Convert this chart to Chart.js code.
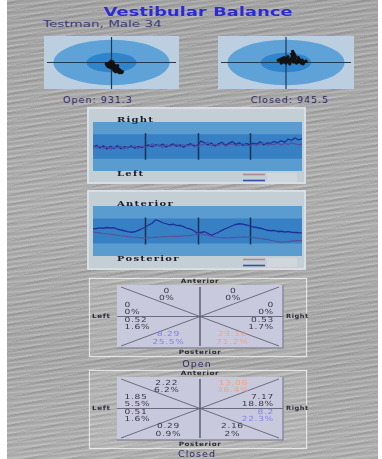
<!DOCTYPE html>
<html>
<head>
<meta charset="utf-8">
<title>Vestibular Balance</title>
<script src="https://cdn.jsdelivr.net/npm/chart.js@4.4.1/dist/chart.umd.min.js"></script>
<style>
    html, body { margin: 0; padding: 0; }
    body {
        width: 382px; height: 459px; overflow: hidden; position: relative;
        background: #fff; font-family: 'DejaVu Sans', sans-serif;
    }
    #metal {
        position: absolute; left: 7px; top: 0; width: 371px; height: 459px;
        background-color: #a8a8a8;
        background-image:
            repeating-linear-gradient(174deg, rgba(255,255,255,0) 0px, rgba(255,255,255,0.16) 1px, rgba(255,255,255,0) 2px, rgba(0,0,0,0.07) 3px, rgba(255,255,255,0) 5px),
            repeating-linear-gradient(168deg, rgba(255,255,255,0.07) 0 2px, rgba(0,0,0,0.06) 2px 4px, rgba(255,255,255,0) 4px 9px),
            linear-gradient(180deg, #a6a6a6, #b0b0b0 45%, #a9a9a9 75%, #b2b2b2);
    }
    .box { position: absolute; }
    .txt { position: absolute; white-space: nowrap; line-height: 1; }
    #title {
        left: 198px; top: 11px; transform: translate(-50%, -50%) scaleX(1.38);
        font: bold 13px 'DejaVu Sans'; color: #2b2bd0;
        text-shadow: 0 0 1px rgba(255,255,255,0.5);
    }
    #subject {
        left: 43px; top: 24px; transform: translate(0, -50%) scaleX(1.5); transform-origin: left center;
        font: 9px 'DejaVu Sans'; color: #3c3c78;
    }
    .cap { transform: translate(-50%, -50%); font: 9.5px 'DejaVu Sans'; letter-spacing: 1px; color: #2c2c5c; }
</style>
</head>
<body>
<div id="metal"></div>

<div class="txt" id="title">Vestibular Balance</div>
<div class="txt" id="subject">Testman, Male 34</div>

<div class="box" style="left:40px;top:32px;width:143px;height:61px"><canvas id="swayOpen"></canvas></div>
<div class="box" style="left:214px;top:32px;width:144px;height:61px"><canvas id="swayClosed"></canvas></div>
<div class="txt cap" style="left:98px;top:99px">Open: 931.3</div>
<div class="txt cap" style="left:290px;top:99px">Closed: 945.5</div>

<div class="box" style="left:87px;top:107px;width:219px;height:77px"><canvas id="lateralChart"></canvas></div>
<div class="box" style="left:87px;top:190px;width:219px;height:80px"><canvas id="apChart"></canvas></div>

<div class="box" style="left:88px;top:277px;width:220px;height:81px"><canvas id="quadOpen"></canvas></div>
<div class="txt cap" style="left:197px;top:363px">Open</div>
<div class="box" style="left:88px;top:369px;width:220px;height:81px"><canvas id="quadClosed"></canvas></div>
<div class="txt cap" style="left:197px;top:453px">Closed</div>

<script>
// ---- sway (centre of pressure), normalised units ----
const openSwayX = [-0.077, -0.063, -0.049, -0.035, -0.035, -0.021, -0.021, -0.007, -0.007, 0.007, 0.007, 0.021, 0.021, 0.035, 0.035, 0.049, 0.049, 0.063, 0.063, 0.077, 0.077, 0.091, 0.091, 0.105, 0.105, 0.119, 0.133, 0.147, 0.007, -0.021, 0.035, 0.063, -0.049, 0.021, -0.007, -0.063, 0.091, 0.119, 0.161, 0.049];
const openSwayY = [-0.05, -0.117, -0.083, -0.017, -0.15, -0.05, -0.117, -0.083, -0.183, -0.017, -0.117, -0.05, -0.15, -0.083, -0.183, -0.117, -0.217, -0.15, -0.25, -0.183, -0.283, -0.217, -0.317, -0.25, -0.35, -0.283, -0.317, -0.383, -0.217, -0.183, -0.283, -0.35, -0.15, 0.017, 0.05, -0.05, -0.117, -0.383, -0.35, -0.317];
const closedSwayX = [-0.112, -0.084, -0.07, -0.056, -0.042, -0.028, -0.014, 0, 0.014, 0.028, 0.042, 0.056, 0.07, 0.084, 0.098, 0.112, 0.126, 0.14, 0.154, 0.168, 0.182, 0.196, 0.21, 0.224, 0.238, 0.266, 0.294, 0.056, 0, 0.098, 0.112, 0.098, 0.126, 0.084, -0.028, 0.028, 0.14, 0.182, 0.252, -0.07];
const closedSwayY = [0.083, 0.117, 0.05, 0.15, 0.083, 0.017, 0.117, 0.05, 0.15, 0.083, 0.017, 0.117, 0.05, 0.183, 0.083, 0.017, 0.15, 0.05, -0.017, 0.083, 0.017, 0.117, 0.05, -0.017, 0.083, 0.017, 0.05, -0.05, -0.017, 0.25, 0.35, 0.417, 0.283, 0.317, 0.183, 0.217, 0.217, 0.183, -0.05, -0.017];

// ---- traces over 60 samples ----
const lateralA = [-0.05, 0.10, -0.12, 0.05, -0.20, 0.02, -0.15, 0.08, -0.18, -0.02, -0.10, 0.06, -0.14, 0.00, -0.08, 0.04,
    0.12, -0.02, 0.15, 0.05, 0.18, -0.04, 0.10, 0.20, 0.02, 0.14, -0.06, 0.12, 0.22, 0.04, 0.10,
    0.45, 0.30, 0.12, 0.28, 0.05, 0.22, 0.35, 0.10, 0.25, 0.40, 0.18, 0.30, 0.08, 0.24, 0.15,
    0.28, 0.20, 0.38, 0.12, 0.30, 0.25, 0.42, 0.30, 0.48, 0.35, 0.60, 0.50, 0.70, 0.55, 0.62];
const lateralB = [0.05, -0.10, 0.02, -0.15, 0.00, -0.22, -0.05, -0.12, 0.04, -0.20, -0.02, -0.08, 0.05, -0.16, 0.02, -0.05,
    0.00, 0.20, 0.05, 0.12, -0.08, 0.16, 0.02, 0.10, 0.18, -0.02, 0.15, 0.05, 0.08, 0.20, -0.05,
    0.12, 0.20, 0.35, 0.05, 0.18, 0.10, 0.25, 0.02, 0.15, 0.22, 0.05, 0.12, 0.26, 0.10, 0.05,
    0.18, 0.08, 0.22, 0.30, 0.10, 0.20, 0.15, 0.28, 0.12, 0.25, 0.18, 0.30, 0.22, 0.15, 0.20];
const apA = [0.17, 0.20, 0.25, 0.22, 0.28, 0.24, 0.26, 0.15, 0.08, 0.02, -0.05, -0.10, -0.06, 0.05, 0.18, 0.32,
    0.48, 0.62, 0.90, 0.80, 0.66, 0.58, 0.50, 0.54, 0.45, 0.44, 0.35, 0.22, 0.15, 0.02, -0.20,
    -0.12, -0.06, -0.20, -0.34, -0.22, -0.10, 0.05, 0.18, 0.30, 0.42, 0.52, 0.58, 0.55, 0.48, 0.40,
    0.32, 0.28, 0.22, 0.15, 0.06, 0.02, 0.04, -0.04, -0.02, -0.08, -0.05, -0.10, -0.12, -0.14, -0.15];
const apB = [-0.09, -0.12, -0.15, -0.20, -0.24, -0.26, -0.30, -0.34, -0.38, -0.40, -0.45, -0.48, -0.50, -0.52, -0.55, -0.57,
    -0.54, -0.52, -0.49, -0.48, -0.46, -0.45, -0.44, -0.42, -0.43, -0.41, -0.38, -0.37, -0.35, -0.30, -0.24,
    -0.22, -0.30, -0.34, -0.42, -0.48, -0.52, -0.54, -0.55, -0.54, -0.53, -0.52, -0.50, -0.49, -0.49, -0.50,
    -0.52, -0.56, -0.60, -0.63, -0.68, -0.75, -0.80, -0.85, -0.89, -0.88, -0.85, -0.81, -0.79, -0.77, -0.76];

// ---- quadrant summaries ----
const sectorNames = ['Anterior-Left', 'Anterior-Right', 'Left-Anterior', 'Left-Posterior',
    'Right-Anterior', 'Right-Posterior', 'Posterior-Left', 'Posterior-Right'];
const openValues = [0, 0, 0, 0.52, 0, 0.53, 8.29, 23.16];
const openPercents = [0, 0, 0, 1.6, 0, 1.7, 25.5, 71.2];
const closedValues = [2.22, 13.06, 1.85, 0.51, 7.17, 8.2, 0.29, 2.16];
const closedPercents = [6.2, 36.4, 5.5, 1.6, 18.8, 22.3, 0.9, 2];

// where each sector's label sits, in the -1..1 quadrant frame
const sectorSpots = {
    'Anterior-Left':   { x: -0.40, y: 0.70, align: 'center' },
    'Anterior-Right':  { x: 0.40, y: 0.70, align: 'center' },
    'Left-Anterior':   { x: -0.91, y: 0.24, align: 'left' },
    'Left-Posterior':  { x: -0.91, y: -0.22, align: 'left' },
    'Right-Anterior':  { x: 0.89, y: 0.24, align: 'right' },
    'Right-Posterior': { x: 0.89, y: -0.22, align: 'right' },
    'Posterior-Left':  { x: -0.38, y: -0.69, align: 'center' },
    'Posterior-Right': { x: 0.39, y: -0.69, align: 'center' }
};

Chart.defaults.font.family = 'DejaVu Sans';

const baseOptions = {
    responsive: true,
    maintainAspectRatio: false,
    animation: false,
    events: [],
    plugins: { legend: { display: false }, tooltip: { enabled: false } }
};

// stretched canvas text, the app draws everything wide
function wideText(ctx, str, x, y, sx) {
    ctx.save();
    ctx.translate(x, y);
    ctx.scale(sx, 1);
    ctx.fillText(str, 0, 0);
    ctx.restore();
}

// ---------- sway plots ----------
const swayZones = {
    id: 'swayZones',
    beforeDatasetsDraw(chart) {
        const { ctx, chartArea: a, scales: { x, y } } = chart;
        const cx = x.getPixelForValue(0), cy = y.getPixelForValue(0);
        ctx.save();
        ctx.fillStyle = '#bccfe0';
        ctx.fillRect(a.left, a.top, a.width, a.height);
        [[0.86, '#5fa2d8'], [0.37, '#2f84cc']].forEach(([r, c]) => {
            ctx.beginPath();
            ctx.ellipse(cx, cy, x.getPixelForValue(r) - cx, cy - y.getPixelForValue(r), 0, 0, Math.PI * 2);
            ctx.fillStyle = c;
            ctx.fill();
        });
        ctx.strokeStyle = '#1c3a55';
        ctx.lineWidth = 1.2;
        ctx.beginPath();
        ctx.moveTo(a.left + 3, cy); ctx.lineTo(a.right - 3, cy);
        ctx.moveTo(cx, a.top + 1); ctx.lineTo(cx, a.bottom);
        ctx.stroke();
        ctx.restore();
    }
};

function makeSway(id, xs, ys) {
    new Chart(document.getElementById(id), {
        type: 'scatter',
        data: {
            datasets: [{
                data: xs.map((v, i) => ({ x: v, y: ys[i] })),
                backgroundColor: '#121212',
                borderWidth: 0,
                pointRadius: 1.7
            }]
        },
        options: {
            ...baseOptions,
            scales: {
                x: { type: 'linear', min: -1, max: 1, display: false },
                y: { min: -1, max: 1, display: false }
            }
        },
        plugins: [swayZones]
    });
}

// ---------- trace panels ----------
function tracePanel(topLabel, bottomLabel) {
    return {
        id: 'tracePanel',
        beforeDraw(chart) {
            const { ctx, width, height } = chart;
            ctx.save();
            ctx.fillStyle = '#c3ced5';
            ctx.fillRect(0, 0, width, height);
            ctx.strokeStyle = '#dfe5e9';
            ctx.lineWidth = 1.5;
            ctx.strokeRect(1, 1, width - 2, height - 2);
            ctx.restore();
        },
        beforeDatasetsDraw(chart) {
            const { ctx, chartArea: a, scales: { x, y } } = chart;
            ctx.save();
            ctx.fillStyle = '#5a9ccf';
            ctx.fillRect(a.left, a.top, a.width, a.height);
            const t = y.getPixelForValue(1), b = y.getPixelForValue(-1);
            ctx.fillStyle = '#3680c3';
            ctx.fillRect(a.left, t, a.width, b - t);
            ctx.strokeStyle = '#1a3152';
            ctx.lineWidth = 1.5;
            [15, 30, 45].forEach(s => {
                const px = Math.round(x.getPixelForValue(s)) + 0.5;
                ctx.beginPath();
                ctx.moveTo(px, t - 1); ctx.lineTo(px, b + 1);
                ctx.stroke();
            });
            ctx.restore();
        },
        afterDraw(chart) {
            const { ctx, chartArea: a } = chart;
            ctx.save();
            ctx.font = 'bold 8px "DejaVu Serif"';
            ctx.letterSpacing = '1px';
            ctx.fillStyle = '#1c1c2c';
            ctx.textBaseline = 'middle';
            wideText(ctx, topLabel, a.left + 24, a.top - 2, 1.25);
            wideText(ctx, bottomLabel, a.left + 24, a.bottom + 3, 1.25);
            ctx.letterSpacing = '0px';
            ctx.fillStyle = 'rgba(255,255,255,0.2)';
            ctx.fillRect(a.left + 174, a.bottom + 2, 30, 9);
            ctx.lineWidth = 1.6;
            [['#ad8a9a', 3.5], ['#3a4ea6', 9.5]].forEach(([c, dy]) => {
                ctx.strokeStyle = c;
                ctx.beginPath();
                ctx.moveTo(a.left + 150, a.bottom + dy); ctx.lineTo(a.left + 172, a.bottom + dy);
                ctx.stroke();
            });
            ctx.restore();
        }
    };
}

function makeTrace(id, seriesA, seriesB, topLabel, bottomLabel, pad) {
    const line = (vals, color, w) => ({
        data: vals.map((v, i) => ({ x: i, y: v })),
        borderColor: color, borderWidth: w, pointRadius: 0, tension: 0, fill: false
    });
    new Chart(document.getElementById(id), {
        type: 'line',
        data: { datasets: [line(seriesB, '#574f9c', 1.2), line(seriesA, '#1f2f9c', 1.3)] },
        options: {
            ...baseOptions,
            layout: { padding: pad },
            scales: {
                x: { type: 'linear', min: 0, max: 60, display: false },
                y: { min: -2, max: 2, display: false }
            }
        },
        plugins: [tracePanel(topLabel, bottomLabel)]
    });
}

// ---------- quadrant summaries ----------
const quadPanel = {
    id: 'quadPanel',
    beforeDraw(chart) {
        const { ctx, width, height, chartArea: a } = chart;
        ctx.save();
        ctx.fillStyle = 'rgba(255,255,255,0.10)';
        ctx.fillRect(0, 0, width, height);
        ctx.strokeStyle = 'rgba(238,238,238,0.85)';
        ctx.lineWidth = 1;
        ctx.strokeRect(1.5, 1.5, width - 3, height - 3);
        ctx.fillStyle = '#c9c9dd';
        ctx.fillRect(a.left, a.top, a.width, a.height);
        ctx.strokeStyle = '#8a8a9c';
        ctx.lineWidth = 1.5;
        ctx.beginPath();
        ctx.moveTo(a.right, a.top); ctx.lineTo(a.right, a.bottom); ctx.lineTo(a.left, a.bottom);
        ctx.stroke();
        ctx.restore();
    },
    beforeDatasetsDraw(chart) {
        const { ctx, chartArea: a, scales: { x, y } } = chart;
        const cx = x.getPixelForValue(0), cy = y.getPixelForValue(0);
        ctx.save();
        ctx.strokeStyle = '#6c6c7e';
        ctx.lineWidth = 1;
        ctx.beginPath();
        ctx.moveTo(a.left + 4, a.top + 2); ctx.lineTo(a.right - 4, a.bottom - 2);
        ctx.moveTo(a.left + 4, a.bottom - 2); ctx.lineTo(a.right - 4, a.top + 2);
        ctx.moveTo(a.left, cy); ctx.lineTo(a.right, cy);
        ctx.stroke();
        ctx.strokeStyle = '#55556a';
        ctx.lineWidth = 1.4;
        ctx.beginPath();
        ctx.moveTo(cx, a.top + 2); ctx.lineTo(cx, a.bottom - 2);
        ctx.stroke();

        ctx.font = 'bold 6px "DejaVu Sans"';
        ctx.letterSpacing = '0.5px';
        ctx.fillStyle = '#2c2c38';
        ctx.textBaseline = 'middle';
        ctx.textAlign = 'center';
        wideText(ctx, 'Anterior', cx, a.top - 4, 1.2);
        wideText(ctx, 'Posterior', cx, a.bottom + 4, 1.2);
        ctx.textAlign = 'left';
        wideText(ctx, 'Left', a.left - 25, cy, 1.2);
        wideText(ctx, 'Right', a.right + 3, cy, 1.1);
        ctx.restore();
    },
    afterDatasetsDraw(chart) {
        const { ctx } = chart;
        const ds = chart.data.datasets[0];
        const meta = chart.getDatasetMeta(0);
        ctx.save();
        ctx.font = '7px "DejaVu Sans"';
        ctx.letterSpacing = '0.5px';
        ctx.textBaseline = 'middle';
        meta.data.forEach((el, i) => {
            const p = ds.data[i];
            ctx.textAlign = p.align;
            ctx.fillStyle = ds.textColors[i];
            wideText(ctx, String(p.value), el.x, el.y - 3.6, 1.3);
            wideText(ctx, p.percent + '%', el.x, el.y + 3.6, 1.3);
        });
        ctx.restore();
    }
};

function makeQuadrant(id, values, percents) {
    const ranked = percents.slice().sort((a, b) => b - a);
    const textColors = percents.map(p =>
        p > 0 && p === ranked[0] ? '#f4a474' : (p > 0 && p === ranked[1] ? '#8080f2' : '#383846'));
    new Chart(document.getElementById(id), {
        type: 'scatter',
        data: {
            datasets: [{
                data: sectorNames.map((s, i) => ({
                    x: sectorSpots[s].x, y: sectorSpots[s].y, align: sectorSpots[s].align,
                    value: values[i], percent: percents[i]
                })),
                textColors: textColors,
                pointRadius: 0
            }]
        },
        options: {
            ...baseOptions,
            layout: { padding: { left: 29, right: 25, top: 8, bottom: 10 } },
            scales: {
                x: { type: 'linear', min: -1, max: 1, display: false },
                y: { min: -1, max: 1, display: false }
            }
        },
        plugins: [quadPanel]
    });
}

makeSway('swayOpen', openSwayX, openSwayY);
makeSway('swayClosed', closedSwayX, closedSwayY);
makeTrace('lateralChart', lateralA, lateralB, 'Right', 'Left', { left: 6, right: 4, top: 15, bottom: 13 });
makeTrace('apChart', apA, apB, 'Anterior', 'Posterior', { left: 6, right: 4, top: 16, bottom: 14 });
makeQuadrant('quadOpen', openValues, openPercents);
makeQuadrant('quadClosed', closedValues, closedPercents);
</script>
</body>
</html>
